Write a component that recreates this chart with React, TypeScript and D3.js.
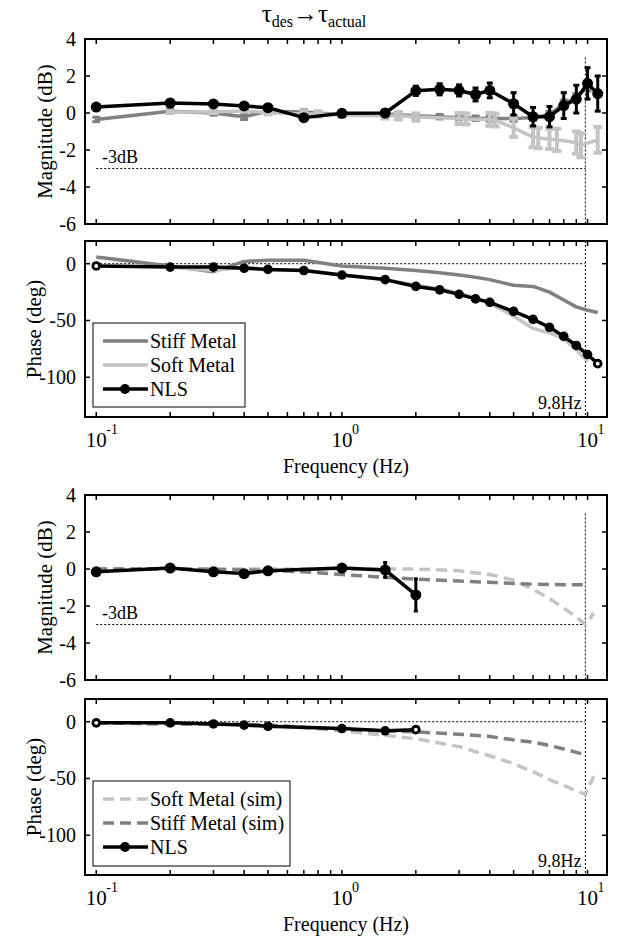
import React from 'react';
import * as d3 from 'd3';

const W = 621;
const H = 942;
const FONT = 'Liberation Serif';

const DARK = '#808080';
const LIGHT = '#c4c4c4';

// ---- upper figure: measured responses ----
const nlsFreq = [0.1, 0.2, 0.3, 0.4, 0.5, 0.7, 1, 1.5, 2, 2.5, 3, 3.5, 4, 5, 6, 7, 8, 9, 10, 11];
const nlsMag = [0.32, 0.54, 0.49, 0.38, 0.29, -0.25, -0.02, 0.0, 1.2, 1.28, 1.22, 1.0, 1.22, 0.5, -0.2, -0.2, 0.4, 0.75, 1.6, 1.05];
const nlsMagErr = [0.1, 0.1, 0.1, 0.1, 0.1, 0.1, 0.1, 0.15, 0.25, 0.3, 0.3, 0.35, 0.4, 0.6, 0.5, 0.55, 0.7, 0.75, 0.85, 0.95];
const nlsPhase = [-2, -3, -3, -4, -5, -6, -10, -14, -20, -23, -27, -31, -34, -42, -49, -56, -64, -72, -80, -88];

const stiffMagFreq = [0.1, 0.2, 0.3, 0.4, 0.5, 0.7, 1, 1.5, 2, 2.5, 3, 3.5, 4, 5, 6, 7, 8, 9, 10];
const stiffMag = [-0.35, 0.1, 0.0, -0.2, 0.1, 0.05, -0.1, -0.05, -0.15, -0.2, -0.25, -0.28, -0.3, -0.3, -0.25, -0.1, 0.5, 0.85, 1.4];
const stiffMagErr = [0.12, 0.12, 0.12, 0.15, 0.12, 0.12, 0.12, 0.12, 0.12, 0.12, 0.12, 0.12, 0.15, 0.15, 0.15, 0.2, 0.2, 0.2, 0.2];
const stiffPhaseFreq = [0.1, 0.2, 0.3, 0.4, 0.5, 0.7, 1, 1.5, 2, 2.5, 3, 3.5, 4, 5, 6, 7, 8, 9, 10, 11];
const stiffPhase = [6, -2, -7, 2, 3, 3, -2, -4, -6, -8, -10, -12, -14, -19, -20, -25, -32, -38, -41, -43];

const softMagFreq = [0.2, 0.3, 0.4, 0.5, 0.7, 0.8, 1, 1.5, 1.7, 2, 3, 3.2, 4, 4.2, 5, 6, 6.3, 7, 7.5, 9, 9.4, 11];
const softMag = [0.05, 0.05, 0.12, 0.02, -0.05, -0.05, -0.12, -0.15, -0.15, -0.22, -0.3, -0.32, -0.35, -0.38, -0.8, -1.3, -1.35, -1.4, -1.45, -1.6, -1.75, -1.45];
const softMagErr = [0.05, 0.05, 0.05, 0.1, 0.15, 0.15, 0.1, 0.15, 0.2, 0.2, 0.3, 0.3, 0.35, 0.35, 0.5, 0.55, 0.55, 0.55, 0.6, 0.6, 0.65, 0.7];
const softPhaseFreq = [0.2, 0.3, 0.4, 0.5, 0.7, 1, 1.5, 2, 2.5, 3, 3.5, 4, 5, 6, 7, 8, 9, 10];
const softPhase = [-3, -6, -3, -5, -6, -10, -14, -19, -22, -26, -30, -35, -46, -57, -61, -66, -76, -86];

// ---- lower figure: simulation vs NLS ----
const nls2Freq = [0.1, 0.2, 0.3, 0.4, 0.5, 1, 1.5, 2];
const nls2Mag = [-0.15, 0.05, -0.15, -0.25, -0.1, 0.05, -0.05, -1.4];
const nls2MagErr = [0.1, 0.1, 0.1, 0.1, 0.1, 0.15, 0.4, 0.87];
const nls2Phase = [-1, -1, -2, -3, -4, -6, -8, -7];

const softSimFreq = [0.1, 0.2, 0.3, 0.5, 0.7, 1, 1.5, 2, 3, 4, 5, 6, 7, 8, 9, 9.8, 10.6];
const softSimMag = [0, 0, 0, 0, 0, 0, 0, 0, -0.1, -0.3, -0.6, -1.1, -1.6, -2.1, -2.6, -3.0, -2.4];
const softSimPhase = [-1, -2, -2, -3, -5, -8, -12, -15, -22, -30, -37, -44, -51, -56, -61, -64, -48];
const stiffSimFreq = [0.1, 0.2, 0.3, 0.5, 0.7, 1, 1.5, 2, 3, 4, 5, 6, 7, 8, 9, 9.8];
const stiffSimMag = [0, 0, -0.02, -0.08, -0.15, -0.3, -0.45, -0.55, -0.65, -0.72, -0.78, -0.82, -0.84, -0.85, -0.85, -0.85];
const stiffSimPhase = [-1, -2, -2, -3, -5, -7, -8, -9, -11, -13, -16, -18, -21, -24, -27, -29];

const magTicks = [-6, -4, -2, 0, 2, 4];
const phaseTicks = [-100, -50, 0];
const cutoff = 9.8;

const x = d3.scaleLog().domain([0.09, 12]).range([85, 607]);
const xTicks = x.ticks().filter(t => t >= 0.0999 && t <= 10.001);
const decades = [0.1, 1, 10];
const decadeExp = ['-1', '0', '1'];

type Series = {
  f: number[];
  v: number[];
  err?: number[];
  color: string;
  width: number;
  dash?: string;
  markers?: boolean;
  hollowEnds?: boolean;
  r?: number;
  errW?: number;
  capW?: number;
};

type LegendItem = { label: string; color: string; dash?: string; marker?: boolean };

type PanelProps = {
  top: number;
  bottom: number;
  domain: [number, number];
  ticks: number[];
  ylabel: string;
  labelX: number;
  series: Series[];
  kind: 'mag' | 'phase';
  xlabels?: boolean;
  legend?: { x: number; y: number; w: number; h: number; items: LegendItem[] };
};

function Panel({ top, bottom, domain, ticks, ylabel, labelX, series, kind, xlabels, legend }: PanelProps) {
  const y = d3.scaleLinear().domain(domain).range([bottom, top]);
  const [x0, x1] = x.range();
  const line = d3.line<[number, number]>().x(d => x(d[0])).y(d => y(d[1]));
  const xc = x(cutoff);
  const tl = 5;

  return (
    <g>
      {/* reference lines */}
      {kind === 'mag' ? (
        <g stroke="#000" strokeWidth={1} strokeDasharray="2,2" fill="none">
          <line x1={x(0.1)} x2={xc} y1={y(-3)} y2={y(-3)} />
          <line x1={xc} x2={xc} y1={y(3)} y2={bottom} />
        </g>
      ) : (
        <g stroke="#000" strokeWidth={1} strokeDasharray="2,2" fill="none">
          <line x1={x(0.1)} x2={xc} y1={y(0)} y2={y(0)} />
          <line x1={xc} x2={xc} y1={top} y2={bottom} />
        </g>
      )}
      {kind === 'mag' ? (
        <text x={102} y={y(-3) - 6} fontSize={18} fontFamily={FONT}>-3dB</text>
      ) : (
        <text x={xc - 4} y={bottom - 8} fontSize={18} fontFamily={FONT} textAnchor="end">9.8Hz</text>
      )}

      {/* data */}
      {series.map((s, i) => {
        const pts = s.f.map((f, j) => [f, s.v[j]] as [number, number]);
        const r = s.r ?? 5;
        return (
          <g key={i}>
            {s.err && s.f.map((f, j) => {
              const cx = x(f);
              const e = s.err![j];
              const cw = (s.capW ?? 8) / 2;
              return (
                <g key={j} stroke={s.color} strokeWidth={s.errW ?? 3}>
                  <line x1={cx} x2={cx} y1={y(s.v[j] - e)} y2={y(s.v[j] + e)} />
                  <line x1={cx - cw} x2={cx + cw} y1={y(s.v[j] - e)} y2={y(s.v[j] - e)} />
                  <line x1={cx - cw} x2={cx + cw} y1={y(s.v[j] + e)} y2={y(s.v[j] + e)} />
                </g>
              );
            })}
            <path d={line(pts) ?? ''} fill="none" stroke={s.color} strokeWidth={s.width}
              strokeDasharray={s.dash} strokeLinejoin="round" />
            {s.markers && pts.map((p, j) => {
              const hollow = s.hollowEnds && (j === 0 || j === pts.length - 1);
              return (
                <g key={'m' + j}>
                  <circle cx={x(p[0])} cy={y(p[1])} r={r} fill={s.color} />
                  {hollow && <circle cx={x(p[0])} cy={y(p[1])} r={r * 0.4} fill="#fff" />}
                </g>
              );
            })}
          </g>
        );
      })}

      {/* frame */}
      <rect x={x0} y={top} width={x1 - x0} height={bottom - top} fill="none" stroke="#000" strokeWidth={2} />
      <g stroke="#000" strokeWidth={1.5}>
        {xTicks.map(t => (
          <g key={t}>
            <line x1={x(t)} x2={x(t)} y1={bottom} y2={bottom - tl} />
            <line x1={x(t)} x2={x(t)} y1={top} y2={top + tl} />
          </g>
        ))}
        {ticks.map(t => (
          <g key={t}>
            <line x1={x0} x2={x0 + tl} y1={y(t)} y2={y(t)} />
            <line x1={x1} x2={x1 - tl} y1={y(t)} y2={y(t)} />
          </g>
        ))}
      </g>
      <g fontFamily={FONT} fontSize={20} textAnchor="end">
        {ticks.map(t => (
          <text key={t} x={x0 - 9} y={y(t) + 7}>{t}</text>
        ))}
      </g>
      {xlabels && (
        <g fontFamily={FONT}>
          {decades.map((d, i) => (
            <g key={d}>
              <text x={x(d)} y={bottom + 30} fontSize={21} textAnchor="middle">10</text>
              <text x={x(d) + 10} y={bottom + 17} fontSize={14}>{decadeExp[i]}</text>
            </g>
          ))}
          <text x={(x0 + x1) / 2} y={bottom + 56} fontSize={20} textAnchor="middle">Frequency (Hz)</text>
        </g>
      )}
      <text transform={`translate(${labelX},${(top + bottom) / 2}) rotate(-90)`} fontFamily={FONT}
        fontSize={21} textAnchor="middle">{ylabel}</text>

      {legend && (
        <g fontFamily={FONT} fontSize={20}>
          <rect x={legend.x} y={legend.y} width={legend.w} height={legend.h} fill="#fff" stroke="#000" strokeWidth={1} />
          {legend.items.map((it, i) => {
            const ly = legend.y + 18 + i * 24;
            return (
              <g key={it.label}>
                <line x1={legend.x + 10} x2={legend.x + 55} y1={ly} y2={ly} stroke={it.color}
                  strokeWidth={3.5} strokeDasharray={it.dash} />
                {it.marker && <circle cx={legend.x + 32} cy={ly} r={5} fill={it.color} />}
                <text x={legend.x + 57} y={ly + 7}>{it.label}</text>
              </g>
            );
          })}
        </g>
      )}
    </g>
  );
}

export default function App() {
  const magDomain: [number, number] = [-6, 4];
  const phaseDomain: [number, number] = [-135, 20];
  return (
    <svg width={W} height={H} viewBox={`0 0 ${W} ${H}`}
      style={{ position: 'absolute', left: 0, top: 0, background: '#fff' }}>
      <text x={314} y={22} textAnchor="middle" fontFamily={FONT} fontSize={25}>
        τ<tspan fontSize={16} dy={5}>des</tspan><tspan dy={-5}>→τ</tspan><tspan fontSize={16} dy={5}>actual</tspan>
      </text>

      <Panel top={39} bottom={224} domain={magDomain} ticks={magTicks} ylabel="Magnitude (dB)" labelX={52} kind="mag"
        series={[
          { f: stiffMagFreq, v: stiffMag, err: stiffMagErr, color: DARK, width: 3.5, errW: 3, capW: 8 },
          { f: softMagFreq, v: softMag, err: softMagErr, color: LIGHT, width: 3.5, errW: 4, capW: 9 },
          { f: nlsFreq, v: nlsMag, err: nlsMagErr, color: '#000', width: 3.5, markers: true, r: 5.5, errW: 3, capW: 6 },
        ]} />
      <Panel top={241} bottom={417} domain={phaseDomain} ticks={phaseTicks} ylabel="Phase (deg)" labelX={41} kind="phase" xlabels
        series={[
          { f: stiffPhaseFreq, v: stiffPhase, color: DARK, width: 3.5 },
          { f: softPhaseFreq, v: softPhase, color: LIGHT, width: 3.5 },
          { f: nlsFreq, v: nlsPhase, color: '#000', width: 3.5, markers: true, hollowEnds: true, r: 4.8 },
        ]}
        legend={{
          x: 93, y: 323, w: 152, h: 84, items: [
            { label: 'Stiff Metal', color: DARK },
            { label: 'Soft Metal', color: LIGHT },
            { label: 'NLS', color: '#000', marker: true },
          ]
        }} />

      <Panel top={495} bottom={680} domain={magDomain} ticks={magTicks} ylabel="Magnitude (dB)" labelX={52} kind="mag"
        series={[
          { f: softSimFreq, v: softSimMag, color: LIGHT, width: 3.5, dash: '11,6' },
          { f: stiffSimFreq, v: stiffSimMag, color: DARK, width: 3.5, dash: '11,6' },
          { f: nls2Freq, v: nls2Mag, err: nls2MagErr, color: '#000', width: 3.5, markers: true, r: 5.5, errW: 3, capW: 4 },
        ]} />
      <Panel top={699} bottom={875} domain={phaseDomain} ticks={phaseTicks} ylabel="Phase (deg)" labelX={41} kind="phase" xlabels
        series={[
          { f: softSimFreq, v: softSimPhase, color: LIGHT, width: 3.5, dash: '11,6' },
          { f: stiffSimFreq, v: stiffSimPhase, color: DARK, width: 3.5, dash: '11,6' },
          { f: nls2Freq, v: nls2Phase, color: '#000', width: 3.5, markers: true, hollowEnds: true, r: 4.8 },
        ]}
        legend={{
          x: 93, y: 781, w: 197, h: 85, items: [
            { label: 'Soft Metal (sim)', color: LIGHT, dash: '11,6' },
            { label: 'Stiff Metal (sim)', color: DARK, dash: '11,6' },
            { label: 'NLS', color: '#000', marker: true },
          ]
        }} />
    </svg>
  );
}
